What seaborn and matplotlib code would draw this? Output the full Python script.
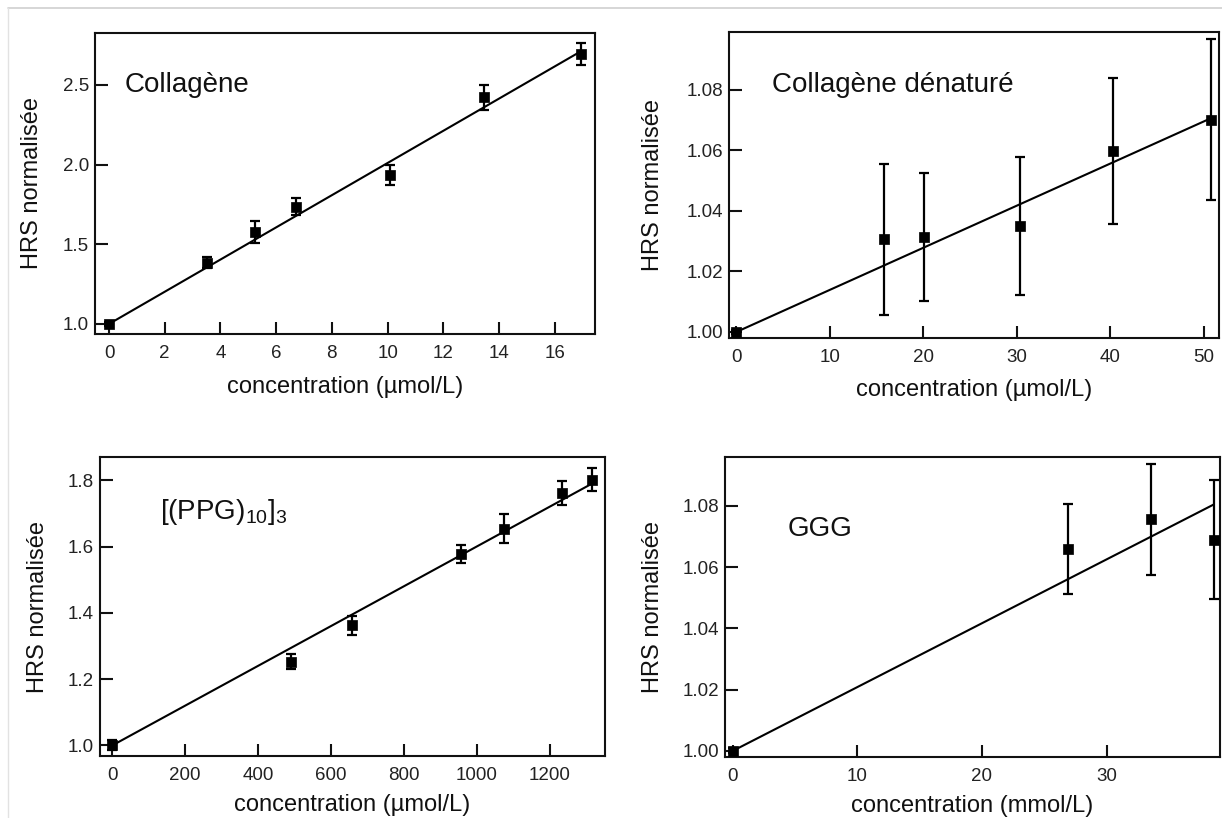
import numpy as np
import pandas as pd
import matplotlib
matplotlib.use("Agg")
import matplotlib.pyplot as plt
from matplotlib.lines import Line2D
import seaborn as sns

# ---------------- data ----------------
coll_x = [0, 3.5, 5.25, 6.7, 10.1, 13.45, 16.95]
coll_y = [1.0, 1.385, 1.575, 1.736, 1.935, 2.423, 2.692]
coll_err = [0.015, 0.037, 0.069, 0.053, 0.06, 0.078, 0.07]
coll_slope = 0.101

den_x = [0, 15.8, 20.05, 30.3, 40.3, 50.8]
den_y = [1.0, 1.0306, 1.0314, 1.0349, 1.0597, 1.0701]
den_err = [0.0008, 0.025, 0.0212, 0.0227, 0.024, 0.0266]
den_slope = 0.00139

ppg_x = [0, 490, 657, 957, 1076, 1233, 1317]
ppg_y = [1.0, 1.252, 1.362, 1.577, 1.654, 1.761, 1.802]
ppg_err = [0.015, 0.023, 0.028, 0.028, 0.043, 0.036, 0.035]
ppg_slope = 0.0006

ggg_x = [0, 26.9, 33.6, 38.6]
ggg_y = [1.0, 1.066, 1.0756, 1.069]
ggg_err = [0.0008, 0.0146, 0.018, 0.0195]
ggg_slope = 0.002085

titles = ["Collagène", "Collagène dénaturé", r"[(PPG)$_{10}$]$_3$", "GGG"]
xlabels = ["concentration (µmol/L)", "concentration (µmol/L)",
           "concentration (µmol/L)", "concentration (mmol/L)"]
ylabel = "HRS normalisée"
xticks_list = [[0, 2, 4, 6, 8, 10, 12, 14, 16], [0, 10, 20, 30, 40, 50],
               [0, 200, 400, 600, 800, 1000, 1200], [0, 10, 20, 30]]
yticks_list = [[1.0, 1.5, 2.0, 2.5], [1.00, 1.02, 1.04, 1.06, 1.08],
               [1.0, 1.2, 1.4, 1.6, 1.8], [1.00, 1.02, 1.04, 1.06, 1.08]]
yfmt = ["{:.1f}", "{:.2f}", "{:.1f}", "{:.2f}"]

# ---------------- style ----------------
sns.set_theme(style="ticks")
plt.rcParams["font.family"] = ["Liberation Sans", "DejaVu Sans"]
plt.rcParams["mathtext.fontset"] = "custom"
plt.rcParams["mathtext.rm"] = "Liberation Sans"
plt.rcParams["mathtext.it"] = "Liberation Sans:italic"
plt.rcParams["mathtext.bf"] = "Liberation Sans:bold"

fig = plt.figure(figsize=(12.22, 8.18), dpi=100)
fig.patch.set_facecolor("white")

positions = [
    [0.0778, 0.5917, 0.4092, 0.3680],
    [0.5966, 0.5868, 0.4010, 0.3740],
    [0.0818, 0.0758, 0.4133, 0.3655],
    [0.5933, 0.0746, 0.4050, 0.3667],
]
xlims = [(-0.5, 17.45), (-0.79, 51.63), (-34, 1352), (-0.63, 39.1)]
ylims = [(0.937, 2.826), (0.998, 1.099), (0.968, 1.870), (0.998, 1.096)]
text_pos = [(0.06, 0.827), (0.088, 0.827), (0.119, 0.816), (0.127, 0.76)]
ylab_x = [-0.104, -0.133, -0.101, -0.123]
xlab_y = [-0.140, -0.134, -0.127, -0.127]

datasets = [
    (coll_x, coll_y, coll_err, coll_slope),
    (den_x, den_y, den_err, den_slope),
    (ppg_x, ppg_y, ppg_err, ppg_slope),
    (ggg_x, ggg_y, ggg_err, ggg_slope),
]

for i, (xs, ys, errs, slope) in enumerate(datasets):
    ax = fig.add_axes(positions[i])
    ax.set_facecolor("white")
    df = pd.DataFrame({"x": xs, "y": ys, "err": errs})
    # fit line through (0, 1)
    xfit = np.array([0.0, max(xs)])
    fit = pd.DataFrame({"x": xfit, "y": 1.0 + slope * xfit})
    sns.lineplot(data=fit, x="x", y="y", ax=ax, color="black", lw=1.5, zorder=2)
    ax.errorbar(df["x"], df["y"], yerr=df["err"], fmt="none", ecolor="black",
                elinewidth=1.6, capsize=3.4, capthick=1.6, zorder=3)
    sns.scatterplot(data=df, x="x", y="y", ax=ax, marker="s", s=44,
                    color="black", edgecolor="black", linewidth=0.5, zorder=4)

    ax.set_xlim(*xlims[i])
    ax.set_ylim(*ylims[i])
    ax.set_xticks(xticks_list[i])
    ax.set_xticklabels([str(t) for t in xticks_list[i]])
    ax.set_yticks(yticks_list[i])
    ax.set_yticklabels([yfmt[i].format(t) for t in yticks_list[i]])
    for s in ax.spines.values():
        s.set_visible(True)
        s.set_linewidth(1.5)
        s.set_color("#111111")
    ax.tick_params(axis="both", direction="in", length=9, width=1.5,
                   color="#111111", labelsize=13.5, labelcolor="#222222",
                   top=False, right=False)
    ax.tick_params(axis="x", pad=8)
    ax.tick_params(axis="y", pad=4.3)

    ax.set_xlabel(xlabels[i], fontsize=17, color="#111111")
    ax.set_ylabel(ylabel, fontsize=17, color="#111111")
    ax.xaxis.set_label_coords(0.5, xlab_y[i])
    ax.xaxis.label.set_va("top")
    ax.yaxis.set_label_coords(ylab_x[i], 0.5)

    ax.text(text_pos[i][0], text_pos[i][1], titles[i], transform=ax.transAxes,
            fontsize=20, ha="left", va="center", color="#111111")
    ax.grid(False)

# faint screenshot frame lines
fig.add_artist(Line2D([8 / 1222, 1.0], [1 - 8 / 818, 1 - 8 / 818],
                      transform=fig.transFigure, color="#cfcfcf", lw=1.2))
fig.add_artist(Line2D([8 / 1222, 8 / 1222], [0.0, 1 - 8 / 818],
                      transform=fig.transFigure, color="#e2e2e2", lw=1.0))

fig.savefig("out.png", dpi=100, facecolor="white")
